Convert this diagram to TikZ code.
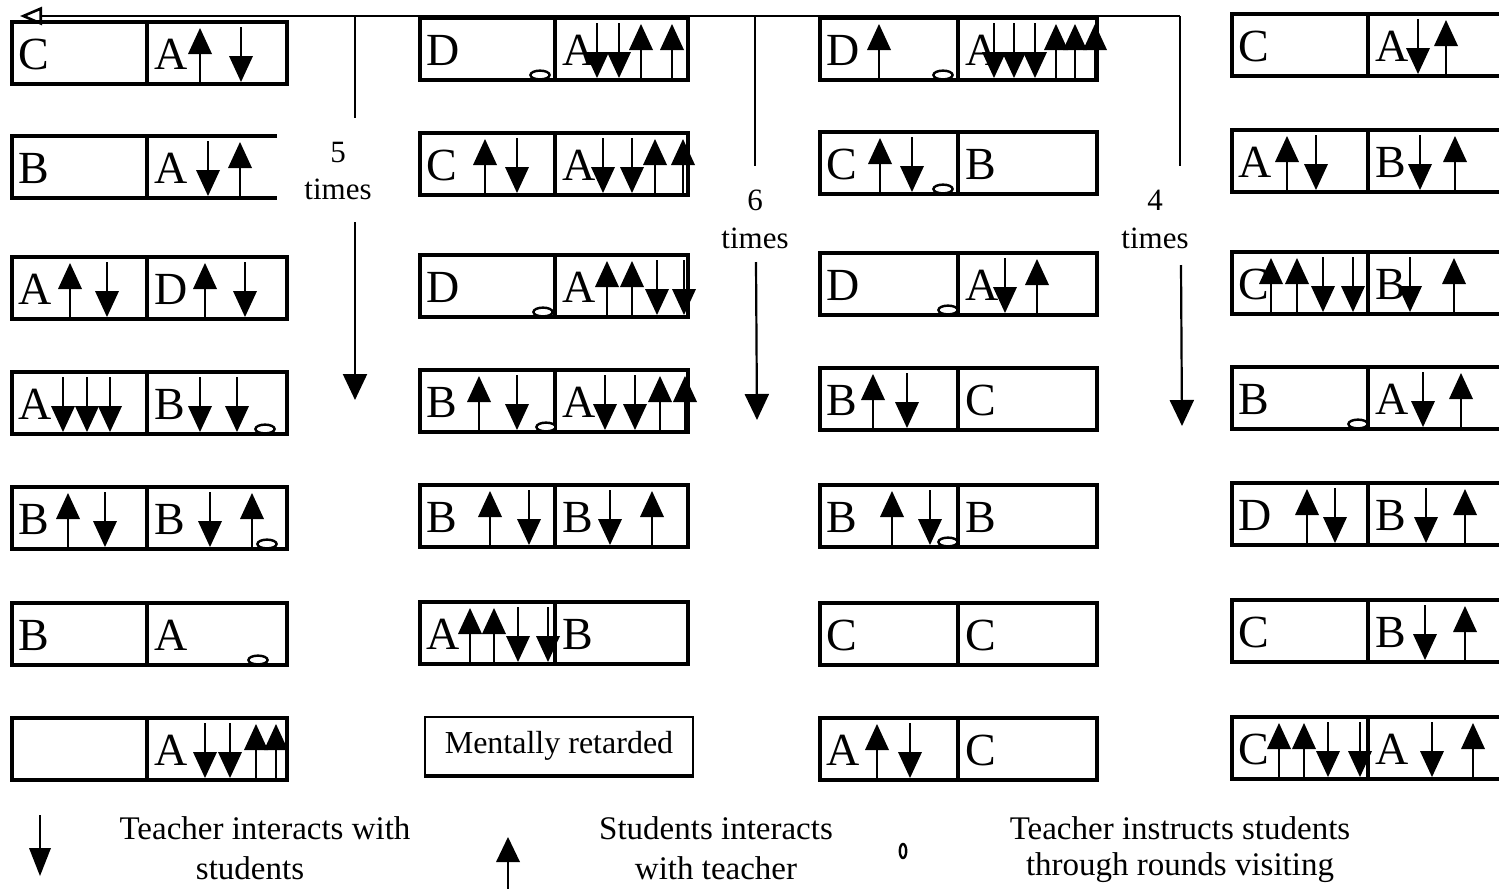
\documentclass[tikz,border=0pt]{standalone}
\usepackage{fontspec}
\setmainfont{Liberation Serif}
\usetikzlibrary{arrows.meta}

\tikzset{
  boxline/.style={line width=1.9pt},
  stemline/.style={line width=1pt},
  flow/.style={line width=1.1pt},
  letter/.style={anchor=base west, inner sep=0pt, font=\fontsize{23}{23}\selectfont},
  legendtext/.style={inner sep=0pt, font=\fontsize{16.5}{20}\selectfont},
  counttext/.style={inner sep=0pt, font=\fontsize{15.5}{18}\selectfont},
}

% student -> teacher (filled head up, stem down to the floor of the cell)
\newcommand\stup[1]{%
  \fill (#1-12,32) -- (#1+12,32) -- (#1,6) -- cycle;
  \draw[stemline] (#1,32) -- (#1,62);}
% teacher -> student (stem from the top, filled head pointing down)
\newcommand\tdown[1]{%
  \draw[stemline] (#1,5) -- (#1,34);
  \fill (#1-12,34) -- (#1+12,34) -- (#1,60) -- cycle;}
% teacher making rounds (small oval on the floor of the cell)
\newcommand\tround[1]{%
  \draw[line width=1.2pt, fill=white] (#1,57) ellipse [x radius=4.8pt, y radius=2.2pt];}
% closed pair of cells: name, left x, divider x, right x, left text, right text
\newcommand\cellpair[6]{%
  \draw[boxline] (#2,0) rectangle (#4,62);
  \draw[boxline] (#3,0) -- (#3,62);
  \node[letter] (#1L) at (#2+6,47) {#5};
  \node[letter] (#1R) at (#3+7,47) {#6};}
% pair of cells with no right edge
\newcommand\openpair[6]{%
  \draw[boxline] (#4,0) -- (#2,0) -- (#2,62) -- (#4,62);
  \draw[boxline] (#3,0) -- (#3,62);
  \node[letter] (#1L) at (#2+6,47) {#5};
  \node[letter] (#1R) at (#3+7,47) {#6};}

\begin{document}
\begin{tikzpicture}[x=0.5pt, y=-0.5pt]
\useasboundingbox (0,0) rectangle (1499,889);

% ---------------- column 1 ----------------
\begin{scope}[shift={(0,22)}]
  \cellpair{a1}{12}{147}{287}{C}{A}
  \stup{200} \tdown{241}
\end{scope}
\begin{scope}[shift={(0,136)}]
  \openpair{a2}{12}{147}{277}{B}{A}
  \tdown{208} \stup{240}
\end{scope}
\begin{scope}[shift={(0,257)}]
  \cellpair{a3}{12}{147}{287}{A}{D}
  \stup{70} \tdown{107} \stup{205} \tdown{245}
\end{scope}
\begin{scope}[shift={(0,372)}]
  \cellpair{a4}{12}{147}{287}{A}{B}
  \tdown{63} \tdown{87} \tdown{110} \tdown{200} \tdown{237} \tround{265}
\end{scope}
\begin{scope}[shift={(0,487)}]
  \cellpair{a5}{12}{147}{287}{B}{B}
  \stup{68} \tdown{105} \tdown{210} \stup{252} \tround{267}
\end{scope}
\begin{scope}[shift={(0,603)}]
  \cellpair{a6}{12}{147}{287}{B}{A}
  \tround{258}
\end{scope}
\begin{scope}[shift={(0,718)}]
  \cellpair{a7}{12}{147}{287}{}{A}
  \tdown{205} \tdown{230} \stup{256} \stup{276}
\end{scope}

% ---------------- column 2 ----------------
\begin{scope}[shift={(0,18)}]
  \cellpair{b1}{420}{555}{688}{D}{A}
  \tround{540} \tdown{597} \tdown{619} \stup{641} \stup{672}
\end{scope}
\begin{scope}[shift={(0,133)}]
  \cellpair{b2}{420}{555}{688}{C}{A}
  \stup{485} \tdown{517} \tdown{603} \tdown{632} \stup{655} \stup{683}
\end{scope}
\begin{scope}[shift={(0,255)}]
  \cellpair{b3}{420}{555}{688}{D}{A}
  \tround{543} \stup{607} \stup{632} \tdown{657} \tdown{684}
\end{scope}
\begin{scope}[shift={(0,370)}]
  \cellpair{b4}{420}{555}{688}{B}{A}
  \stup{479} \tdown{517} \tround{546} \tdown{605} \tdown{635} \stup{660} \stup{685}
\end{scope}
\begin{scope}[shift={(0,485)}]
  \cellpair{b5}{420}{555}{688}{B}{B}
  \stup{490} \tdown{529} \tdown{610} \stup{652}
\end{scope}
\begin{scope}[shift={(0,602)}]
  \cellpair{b6}{420}{555}{688}{A}{B}
  \stup{470} \stup{494} \tdown{518} \tdown{548}
\end{scope}
\node[draw, line width=0.9pt, minimum width=134pt, minimum height=29pt,
      inner sep=0pt, font=\fontsize{16}{18}\selectfont] (mr) at (559,746) {Mentally retarded};
\draw[line width=1.8pt] (mr.south west) -- (mr.south east);

% ---------------- column 3 ----------------
\begin{scope}[shift={(0,18)}]
  \cellpair{c1}{820}{958}{1097}{D}{A}
  \stup{879} \tround{943}
  \tdown{994} \tdown{1014} \tdown{1035} \stup{1056} \stup{1075} \stup{1095}
\end{scope}
\begin{scope}[shift={(0,132)}]
  \cellpair{c2}{820}{958}{1097}{C}{B}
  \stup{880} \tdown{912} \tround{943}
\end{scope}
\begin{scope}[shift={(0,253)}]
  \cellpair{c3}{820}{958}{1097}{D}{A}
  \tround{948} \tdown{1005} \stup{1037}
\end{scope}
\begin{scope}[shift={(0,368)}]
  \cellpair{c4}{820}{958}{1097}{B}{C}
  \stup{873} \tdown{907}
\end{scope}
\begin{scope}[shift={(0,485)}]
  \cellpair{c5}{820}{958}{1097}{B}{B}
  \stup{892} \tdown{930} \tround{948}
\end{scope}
\begin{scope}[shift={(0,603)}]
  \cellpair{c6}{820}{958}{1097}{C}{C}
\end{scope}
\begin{scope}[shift={(0,718)}]
  \cellpair{c7}{820}{958}{1097}{A}{C}
  \stup{877} \tdown{910}
\end{scope}

% ---------------- column 4 ----------------
\begin{scope}[shift={(0,14)}]
  \openpair{d1}{1232}{1368}{1499}{C}{A}
  \tdown{1418} \stup{1446}
\end{scope}
\begin{scope}[shift={(0,130)}]
  \openpair{d2}{1232}{1368}{1499}{A}{B}
  \stup{1287} \tdown{1316} \tdown{1420} \stup{1455}
\end{scope}
\begin{scope}[shift={(0,252)}]
  \openpair{d3}{1232}{1368}{1499}{C}{B}
  \stup{1271} \stup{1297} \tdown{1323} \tdown{1353} \tdown{1410} \stup{1454}
\end{scope}
\begin{scope}[shift={(0,367)}]
  \openpair{d4}{1232}{1368}{1499}{B}{A}
  \tround{1358} \tdown{1423} \stup{1461}
\end{scope}
\begin{scope}[shift={(0,483)}]
  \openpair{d5}{1232}{1368}{1499}{D}{B}
  \stup{1307} \tdown{1335} \tdown{1426} \stup{1465}
\end{scope}
\begin{scope}[shift={(0,600)}]
  \openpair{d6}{1232}{1368}{1499}{C}{B}
  \tdown{1425} \stup{1465}
\end{scope}
\begin{scope}[shift={(0,717)}]
  \openpair{d7}{1232}{1368}{1499}{C}{A}
  \stup{1279} \stup{1304} \tdown{1328} \tdown{1360} \tdown{1432} \stup{1473}
\end{scope}

% ---------------- rotation loops ----------------
\coordinate (loopEnd) at (1180,16);
\coordinate (loopTip) at (20,16);
\draw[flow, -{Triangle[open, length=11pt, width=9pt, line width=1.3pt]}] (loopEnd) -- (loopTip);

% five times
\coordinate (f1) at (355,16);
\coordinate (f2) at (355,118);
\node[counttext] (fnum) at (338,152) {5};
\node[counttext] (ftimes) at (338,189) {times};
\coordinate (f3) at (355,222);
\coordinate (f4) at (355,400);
\draw[flow] (f1) -- (f2);
\draw[flow, -{Triangle[length=13pt, width=12pt]}] (f3) -- (f4);

% six times
\coordinate (s1) at (755,16);
\coordinate (s2) at (755,166);
\node[counttext] (snum) at (755,200) {6};
\node[counttext] (stimes) at (755,238) {times};
\coordinate (s3) at (756,262);
\coordinate (s4) at (757,420);
\draw[flow] (s1) -- (s2);
\draw[flow, -{Triangle[length=13pt, width=12pt]}] (s3) -- (s4);

% four times
\coordinate (q1) at (1180,16);
\coordinate (q2) at (1180,166);
\node[counttext] (qnum) at (1155,200) {4};
\node[counttext] (qtimes) at (1155,238) {times};
\coordinate (q3) at (1181,265);
\coordinate (q4) at (1182,426);
\draw[flow] (q1) -- (q2);
\draw[flow, -{Triangle[length=13pt, width=12pt]}] (q3) -- (q4);

% ---------------- legend ----------------
\draw[stemline] (40,815) -- (40,850);
\fill (29,848) -- (51,848) -- (40,876) -- cycle;
\node[legendtext] (lg1a) at (265,828) {Teacher interacts with};
\node[legendtext] (lg1b) at (250,868) {students};

\fill (496,862) -- (520,862) -- (508,837) -- cycle;
\draw[stemline] (508,862) -- (508,889);
\node[legendtext] (lg2a) at (716,828) {Students interacts};
\node[legendtext] (lg2b) at (716,868) {with teacher};

\draw[line width=1.2pt] (903,851) ellipse [x radius=1.6pt, y radius=3.5pt];
\node[legendtext] (lg3a) at (1180,828) {Teacher instructs students};
\node[legendtext] (lg3b) at (1180,868) {through rounds visiting};
\end{tikzpicture}
\end{document}
